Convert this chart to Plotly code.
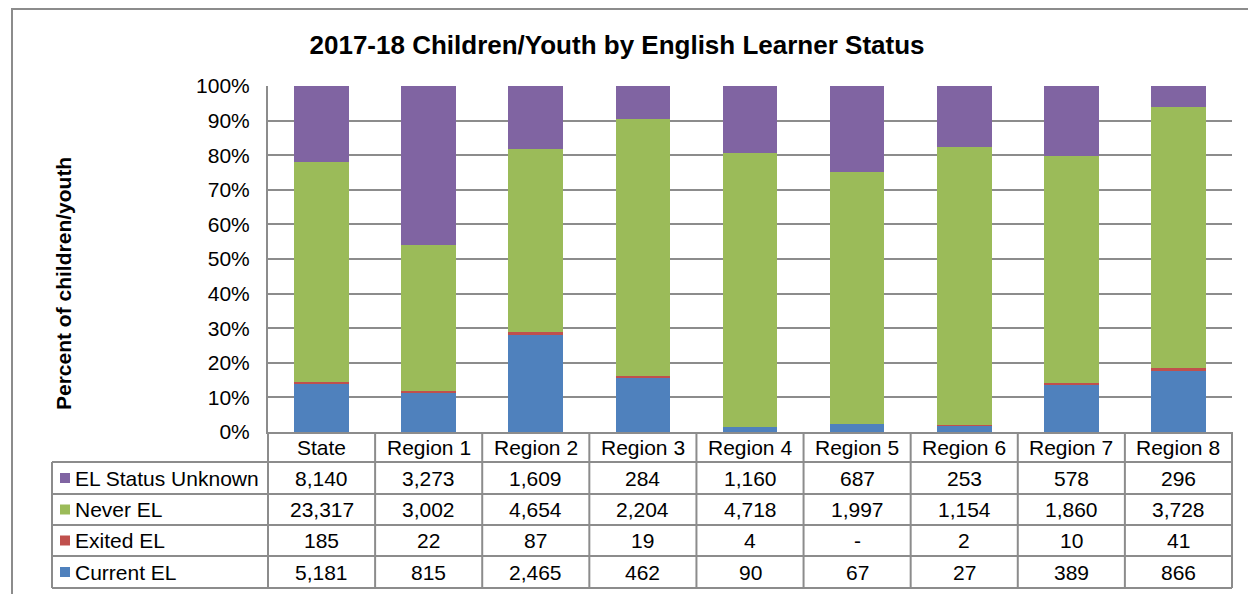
import plotly.graph_objects as go

# ---- data ----
categories = ["State", "Region 1", "Region 2", "Region 3", "Region 4",
              "Region 5", "Region 6", "Region 7", "Region 8"]
el_status_unknown = [8140, 3273, 1609, 284, 1160, 687, 253, 578, 296]
never_el = [23317, 3002, 4654, 2204, 4718, 1997, 1154, 1860, 3728]
exited_el = [185, 22, 87, 19, 4, None, 2, 10, 41]
current_el = [5181, 815, 2465, 462, 90, 67, 27, 389, 866]

series_names = ["Current EL", "Exited EL", "Never EL", "EL Status Unknown"]
series_values = [current_el, exited_el, never_el, el_status_unknown]
series_colors = ["#4F81BD", "#C0504D", "#9BBB59", "#8064A2"]

title_text = "2017-18 Children/Youth by English Learner Status"
y_title = "Percent of children/youth"

# ---- geometry (pixels) ----
W, H = 1248, 594
L, R, T, B = 268, 16, 86, 162
PW, PH = W - L - R, H - T - B
BASE = H - B  # pixel y of plot bottom


def px2x(px):
    return (px - L) / PW


def py2y(py):
    return (BASE - py) / PH


GRID = "#8C8C8C"
FONT = "Liberation Sans, Arial, sans-serif"
TXT = 21

fig = go.Figure()
for name, vals, col in zip(series_names, series_values, series_colors):
    fig.add_trace(go.Bar(
        x=categories,
        y=[v if v is not None else 0 for v in vals],
        name=name,
        marker=dict(color=col, line=dict(width=0)),
        showlegend=False,
    ))

fig.update_layout(
    width=W, height=H,
    margin=dict(l=L, r=R, t=T, b=B),
    paper_bgcolor="white", plot_bgcolor="white",
    barmode="stack", barnorm="percent", bargap=0.49,
    font=dict(family=FONT, size=TXT, color="black"),
    title=dict(text="<b>" + title_text + "</b>", x=617 / W, xanchor="center",
               y=1 - 45 / H, yanchor="middle",
               font=dict(family=FONT, size=26, color="black")),
)
fig.update_xaxes(range=[-0.5, len(categories) - 0.5], showticklabels=False,
                 showline=True, linecolor=GRID, linewidth=2, showgrid=False,
                 ticks="", fixedrange=True)
fig.update_yaxes(range=[0, 100], dtick=10, ticksuffix="%", showgrid=True,
                 gridcolor=GRID, gridwidth=2, showline=True, linecolor=GRID,
                 linewidth=2, ticks="", ticklabelstandoff=12,
                 tickfont=dict(size=TXT), zeroline=False)

# y-axis title
fig.add_annotation(text="<b>" + y_title + "</b>", xref="paper", yref="paper",
                   x=px2x(63), y=py2y(284), textangle=-90, showarrow=False,
                   font=dict(size=21), xanchor="center", yanchor="middle")

# ---- data table ----
row_lines = [462, 494, 525, 556, 588]
header_center = (BASE + row_lines[0]) / 2
row_series = [3, 2, 1, 0]  # top to bottom: Unknown, Never, Exited, Current
line_style = dict(color=GRID, width=2)
n = len(categories)

# horizontal lines
for py in row_lines:
    fig.add_shape(type="line", xref="paper", yref="paper",
                  x0=px2x(52), x1=1, y0=py2y(py), y1=py2y(py), line=line_style)
# vertical lines between category columns
for i in range(n + 1):
    xp = i / n
    fig.add_shape(type="line", xref="paper", yref="paper",
                  x0=xp, x1=xp, y0=0, y1=py2y(row_lines[-1]), line=line_style)
# left edge of legend column
fig.add_shape(type="line", xref="paper", yref="paper",
              x0=px2x(52), x1=px2x(52), y0=py2y(row_lines[0]),
              y1=py2y(row_lines[-1]), line=line_style)

# header labels
for c in categories:
    fig.add_annotation(text=c, x=c, xref="x", y=py2y(header_center), yref="paper",
                       showarrow=False, font=dict(size=TXT),
                       xanchor="center", yanchor="middle")


def fmt(v):
    return "-" if v is None or v == 0 else f"{v:,}"


for r, si in enumerate(row_series):
    top, bot = row_lines[r], row_lines[r + 1]
    cy = py2y((top + bot) / 2)
    # legend key
    fig.add_shape(type="rect", xref="paper", yref="paper",
                  x0=px2x(60), x1=px2x(70), y0=cy - 5 / PH, y1=cy + 5 / PH,
                  fillcolor=series_colors[si], line=dict(width=0))
    fig.add_annotation(text=series_names[si], xref="paper", x=px2x(73),
                       yref="paper", y=cy, showarrow=False, font=dict(size=TXT),
                       xanchor="left", yanchor="middle")
    for c, v in zip(categories, series_values[si]):
        fig.add_annotation(text=fmt(v), x=c, xref="x", y=cy, yref="paper",
                           showarrow=False, font=dict(size=TXT),
                           xanchor="center", yanchor="middle")

# outer frame of the chart area
fig.add_shape(type="rect", xref="paper", yref="paper",
              x0=px2x(12), x1=px2x(1270), y0=py2y(620), y1=py2y(9),
              line=dict(color=GRID, width=2), fillcolor="rgba(0,0,0,0)",
              layer="below")

fig.write_html("out.html",
               config={"displayModeBar": False},
               post_script="document.body.style.margin='0';"
                           "document.body.style.overflow='hidden';")
